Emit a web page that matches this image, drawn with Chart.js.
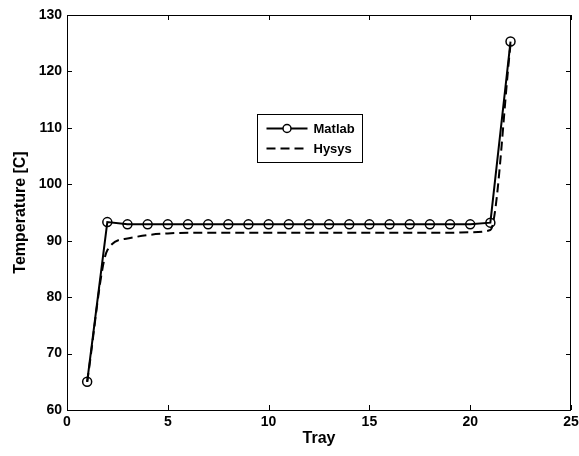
<!DOCTYPE html>
<html>
<head>
<meta charset="utf-8">
<script src="https://cdn.jsdelivr.net/npm/chart.js@4.4.1/dist/chart.umd.min.js"></script>
<style>
  html, body { margin: 0; padding: 0; background: #fff; }
  #wrap { width: 579px; height: 456px; }
</style>
</head>
<body>
<div id="wrap"><canvas id="tempChart" width="579" height="456"></canvas></div>
<script>
// tray numbers and temperatures
const trays = [1, 2, 3, 4, 5, 6, 7, 8, 9, 10, 11, 12, 13, 14, 15, 16, 17, 18, 19, 20, 21, 22];
const matlabTemp = [65.0, 93.3, 92.9, 92.9, 92.9, 92.9, 92.9, 92.9, 92.9, 92.9, 92.9,
                    92.9, 92.9, 92.9, 92.9, 92.9, 92.9, 92.9, 92.9, 92.9, 93.2, 125.3];
const hysysTemp = [65.0, 88.3, 90.4, 91.0, 91.3, 91.4, 91.4, 91.4, 91.4, 91.4, 91.4,
                   91.4, 91.4, 91.4, 91.4, 91.4, 91.4, 91.4, 91.4, 91.5, 91.9, 124.8];
const xTicks = [0, 5, 10, 15, 20, 25];
const yTicks = [60, 70, 80, 90, 100, 110, 120, 130];
const seriesNames = ['Matlab', 'Hysys'];

const FONT = 'Liberation Sans, Arial, sans-serif';

// matlab-style inward ticks on all four sides + box
const boxTicks = {
    id: 'boxTicks',
    afterDraw(chart) {
        const { ctx, chartArea: a, scales: { x, y } } = chart;
        ctx.save();
        ctx.strokeStyle = '#000';
        ctx.lineWidth = 1;
        ctx.strokeRect(a.left + 0.5, a.top + 0.5, a.right - a.left - 1, a.bottom - a.top);
        const len = 5;
        xTicks.forEach(v => {
            const px = Math.round(x.getPixelForValue(v)) + 0.5;
            ctx.beginPath();
            ctx.moveTo(px, a.bottom); ctx.lineTo(px, a.bottom - len);
            ctx.moveTo(px, a.top); ctx.lineTo(px, a.top + len);
            ctx.stroke();
        });
        yTicks.forEach(v => {
            const py = Math.round(y.getPixelForValue(v)) + 0.5;
            ctx.beginPath();
            ctx.moveTo(a.left, py); ctx.lineTo(a.left + len, py);
            ctx.moveTo(a.right, py); ctx.lineTo(a.right - len, py);
            ctx.stroke();
        });
        ctx.restore();
    }
};

// legend box inside the axes
const innerLegend = {
    id: 'innerLegend',
    afterDraw(chart) {
        const { ctx } = chart;
        const bx = 257.5, by = 114.5, bw = 105, bh = 48;
        ctx.save();
        ctx.fillStyle = '#fff';
        ctx.fillRect(bx, by, bw, bh);
        ctx.strokeStyle = '#000';
        ctx.lineWidth = 1;
        ctx.strokeRect(bx, by, bw, bh);
        ctx.font = 'bold 13px ' + FONT;
        ctx.textBaseline = 'middle';
        chart.data.datasets.forEach((ds, i) => {
            const ly = by + 14 + i * 20;
            ctx.strokeStyle = '#000';
            ctx.lineWidth = 2;
            ctx.setLineDash(ds.borderDash || []);
            ctx.beginPath();
            ctx.moveTo(bx + 9, ly);
            ctx.lineTo(bx + 50, ly);
            ctx.stroke();
            ctx.setLineDash([]);
            if (ds.pointRadius > 0) {
                ctx.lineWidth = 1.5;
                ctx.beginPath();
                ctx.arc(bx + 29.5, ly, 4, 0, Math.PI * 2);
                ctx.fillStyle = '#fff';
                ctx.fill();
                ctx.stroke();
            }
            ctx.fillStyle = '#000';
            ctx.fillText(ds.label, bx + 56, ly + 1);
        });
        ctx.restore();
    }
};

const ctx = document.getElementById('tempChart').getContext('2d');
new Chart(ctx, {
    type: 'line',
    data: {
        datasets: [
            {
                label: seriesNames[0],
                data: trays.map((t, i) => ({ x: t, y: matlabTemp[i] })),
                borderColor: '#000',
                borderWidth: 2,
                pointRadius: 4.5,
                pointStyle: 'circle',
                pointBorderColor: '#000',
                pointBackgroundColor: 'rgba(255,255,255,0)',
                pointBorderWidth: 1.5,
                tension: 0
            },
            {
                label: seriesNames[1],
                data: trays.map((t, i) => ({ x: t, y: hysysTemp[i] })),
                borderColor: '#000',
                borderWidth: 2,
                borderDash: [9, 5],
                pointRadius: 0,
                cubicInterpolationMode: 'monotone'
            }
        ]
    },
    options: {
        responsive: false,
        animation: false,
        layout: { padding: { top: 15, right: 0, left: 11, bottom: 4 } },
        plugins: {
            legend: { display: false },
            tooltip: { enabled: false }
        },
        scales: {
            x: {
                type: 'linear',
                min: 0, max: 25,
                afterBuildTicks: s => { s.ticks = xTicks.map(v => ({ value: v })); },
                afterFit: s => { s.height = 42; s.paddingRight = 8; },
                grid: { display: false, drawTicks: false },
                border: { display: false },
                ticks: { color: '#000', padding: 4, font: { family: FONT, size: 14, weight: 'bold' } },
                title: { display: true, text: 'Tray', color: '#000', padding: { top: 0, bottom: 4 },
                         font: { family: FONT, size: 16, weight: 'bold' } }
            },
            y: {
                type: 'linear',
                min: 60, max: 130,
                afterBuildTicks: s => { s.ticks = yTicks.map(v => ({ value: v })); },
                afterFit: s => { s.width = 56; },
                grid: { display: false, drawTicks: false },
                border: { display: false },
                ticks: { color: '#000', padding: 5, font: { family: FONT, size: 14, weight: 'bold' } },
                title: { display: true, text: 'Temperature [C]', color: '#000', padding: { top: 0, bottom: 6 },
                         font: { family: FONT, size: 16, weight: 'bold' } }
            }
        }
    },
    plugins: [boxTicks, innerLegend]
});
</script>
</body>
</html>
